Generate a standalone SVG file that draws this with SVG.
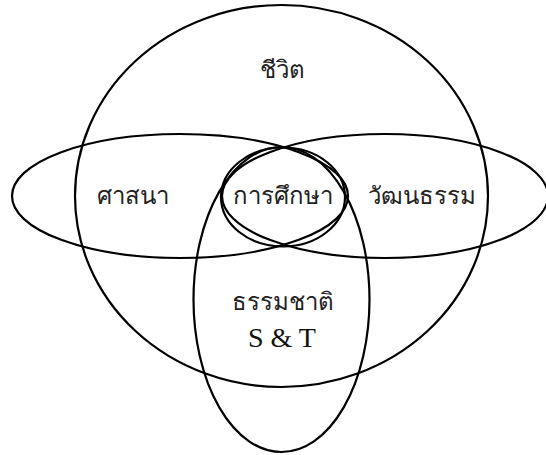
<svg xmlns="http://www.w3.org/2000/svg" width="546" height="455" viewBox="0 0 546 455">
<style>
.s{fill:none;stroke:#000;stroke-width:2.2}
.th{font-family:"Noto Sans","DejaVu Sans",sans-serif;font-size:24px;fill:#222;text-anchor:middle}
.en{font-family:"Liberation Serif",serif;font-size:28px;fill:#111;text-anchor:middle}
</style>
<rect width="546" height="455" fill="#fff"/>
<g id="life"><ellipse class="s" cx="281.5" cy="196" rx="206.5" ry="191"/><text class="th" x="282" y="78">ชีวิต</text></g>
<g id="religion"><ellipse class="s" cx="180" cy="196" rx="168" ry="62"/><text class="th" x="133" y="204">ศาสนา</text></g>
<g id="culture"><ellipse class="s" cx="385" cy="196" rx="163" ry="62"/><text class="th" x="422" y="204">วัฒนธรรม</text></g>
<g id="education"><ellipse class="s" cx="283" cy="197" rx="62" ry="49.5"/><text class="th" x="283" y="204">การศึกษา</text></g>
<g id="nature"><ellipse class="s" cx="281.5" cy="299.5" rx="88" ry="152.5"/><text class="th" x="283" y="310">ธรรมชาติ</text><text class="en" x="282" y="347">S &amp; T</text></g>
<g id="connectors"/>
</svg>
